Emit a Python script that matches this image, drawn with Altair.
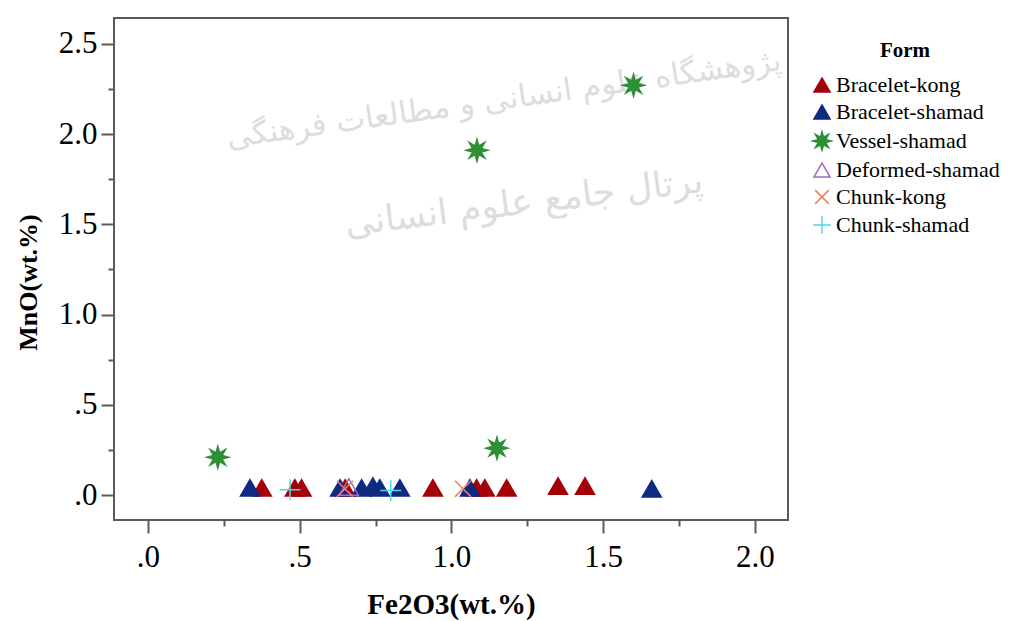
import altair as alt
import pandas as pd
import math

# ---- data ----
forms = ["Bracelet-kong", "Bracelet-shamad", "Vessel-shamad",
         "Deformed-shamad", "Chunk-kong", "Chunk-shamad"]

bracelet_kong_fe = [0.375, 0.484, 0.506, 0.650, 0.939, 1.083, 1.110, 1.182, 1.351, 1.440]
bracelet_kong_mn = [0.04, 0.04, 0.04, 0.04, 0.04, 0.04, 0.04, 0.04, 0.05, 0.05]

bracelet_shamad_fe = [0.336, 0.633, 0.704, 0.741, 0.764, 0.830, 1.061, 1.660]
bracelet_shamad_mn = [0.04, 0.04, 0.04, 0.05, 0.04, 0.04, 0.04, 0.035]

vessel_shamad_fe = [0.230, 1.084, 1.150, 1.600]
vessel_shamad_mn = [0.21, 1.91, 0.26, 2.27]

deformed_shamad_fe = [0.662]
deformed_shamad_mn = [0.045]

chunk_kong_fe = [0.649, 1.038]
chunk_kong_mn = [0.035, 0.035]

chunk_shamad_fe = [0.468, 0.800]
chunk_shamad_mn = [0.03, 0.025]

x_ticks = [0.0, 0.25, 0.5, 0.75, 1.0, 1.25, 1.5, 1.75, 2.0]
y_ticks = [0.0, 0.25, 0.5, 0.75, 1.0, 1.25, 1.5, 1.75, 2.0, 2.25, 2.5]

watermark_lines = ["پژوهشگاه علوم انسانی و مطالعات فرهنگی", "پرتال جامع علوم انسانی"]

# ---- build table ----
series = [
    (forms[0], bracelet_kong_fe, bracelet_kong_mn),
    (forms[1], bracelet_shamad_fe, bracelet_shamad_mn),
    (forms[2], vessel_shamad_fe, vessel_shamad_mn),
    (forms[3], deformed_shamad_fe, deformed_shamad_mn),
    (forms[4], chunk_kong_fe, chunk_kong_mn),
    (forms[5], chunk_shamad_fe, chunk_shamad_mn),
]
rows = []
for name, xs, ys in series:
    for a, b in zip(xs, ys):
        rows.append({"Form": name, "Fe2O3": a, "MnO": b})
df = pd.DataFrame(rows)

# ---- marker shapes ----
def star_path(n=8, outer=1.15, inner=0.5):
    pts = []
    for i in range(2 * n):
        r = outer if i % 2 == 0 else inner
        ang = -math.pi / 2 + i * math.pi / n
        pts.append(f"{r*math.cos(ang):.3f},{r*math.sin(ang):.3f}")
    return "M" + "L".join(pts) + "Z"

x_path = "M-0.85,-0.85L0.85,0.85M-0.85,0.85L0.85,-0.85"
plus_path = "M-1.1,0L1.1,0M0,-1.1L0,1.1"

shapes = ["triangle-up", "triangle-up", star_path(), "triangle-up", x_path, plus_path]
strokes = ["#A30008", "#0F2A80", "#2F8F36", "#A566C4", "#EE8068", "#4FD8E4"]
fills = ["#A30008", "#0F2A80", "#2F8F36", "transparent", "transparent", "transparent"]

FONT = "Liberation Serif"

def lab_expr():
    return ("round(datum.value*4)%2==0 ? (datum.value==0 ? '.0' : (abs(datum.value-0.5)<0.001 ? '.5' : "
            "format(datum.value, '.1f'))) : ''")

tick_size = {"condition": {"test": "round(datum.value*4)%2==0", "value": 13}, "value": 6}

x_enc = alt.X("Fe2O3:Q",
              scale=alt.Scale(domain=[-0.112, 2.109], nice=False, zero=False),
              axis=alt.Axis(values=x_ticks, labelExpr=lab_expr(), tickSize=tick_size,
                            title="Fe2O3(wt.%)", grid=False, domain=False,
                            labelPadding=9, titlePadding=18, titleFontSize=29))
y_enc = alt.Y("MnO:Q",
              scale=alt.Scale(domain=[-0.138, 2.643], nice=False, zero=False),
              axis=alt.Axis(values=y_ticks, labelExpr=lab_expr(), tickSize=tick_size,
                            title="MnO(wt.%)", grid=False, domain=False,
                            labelPadding=4, titlePadding=17, titleFontSize=26, titleY=264))

legend = alt.Legend(title="Form", orient="none", legendX=697, legendY=22,
                    titleAnchor="middle", symbolSize=260, symbolStrokeWidth=1.5,
                    rowPadding=5, labelFontSize=22, titleFontSize=21, titlePadding=13,
                    labelOffset=3, labelLimit=400)

points = alt.Chart(df).mark_point(size=361, strokeWidth=1.5, opacity=1).encode(
    x=x_enc,
    y=y_enc,
    shape=alt.Shape("Form:N", scale=alt.Scale(domain=forms, range=shapes), legend=legend),
    stroke=alt.Stroke("Form:N", scale=alt.Scale(domain=forms, range=strokes), legend=legend),
    fill=alt.Fill("Form:N", scale=alt.Scale(domain=forms, range=fills), legend=legend),
)

wm_df = pd.DataFrame({"t": watermark_lines, "i": [0, 1]})
wm1 = alt.Chart(wm_df[wm_df.i == 0]).mark_text(
    font="DejaVu Sans", fontSize=31, color="#DDDDDD", angle=352, align="center", baseline="middle"
).encode(text="t:N", x=alt.value(390), y=alt.value(82))
wm2 = alt.Chart(wm_df[wm_df.i == 1]).mark_text(
    font="DejaVu Sans", fontSize=36, color="#DDDDDD", angle=353, align="center", baseline="middle"
).encode(text="t:N", x=alt.value(410), y=alt.value(185))

chart = alt.layer(wm1, wm2, points).properties(
    width=674, height=502,
    autosize=alt.AutoSizeParams(type="none"),
    padding={"left": 106, "top": 10, "right": 214, "bottom": 100},
).configure_view(
    stroke="#5A5A5A", strokeWidth=2
).configure_axis(
    labelFont=FONT, labelFontSize=31, labelColor="black",
    titleFont=FONT, titleFontWeight="bold", titleColor="black",
    tickColor="#5A5A5A", tickWidth=2,
).configure_legend(
    labelFont=FONT, titleFont=FONT, titleFontWeight="bold", labelColor="black", titleColor="black",
)

chart.save("out.html", embed_options={"renderer": "svg", "actions": False})
